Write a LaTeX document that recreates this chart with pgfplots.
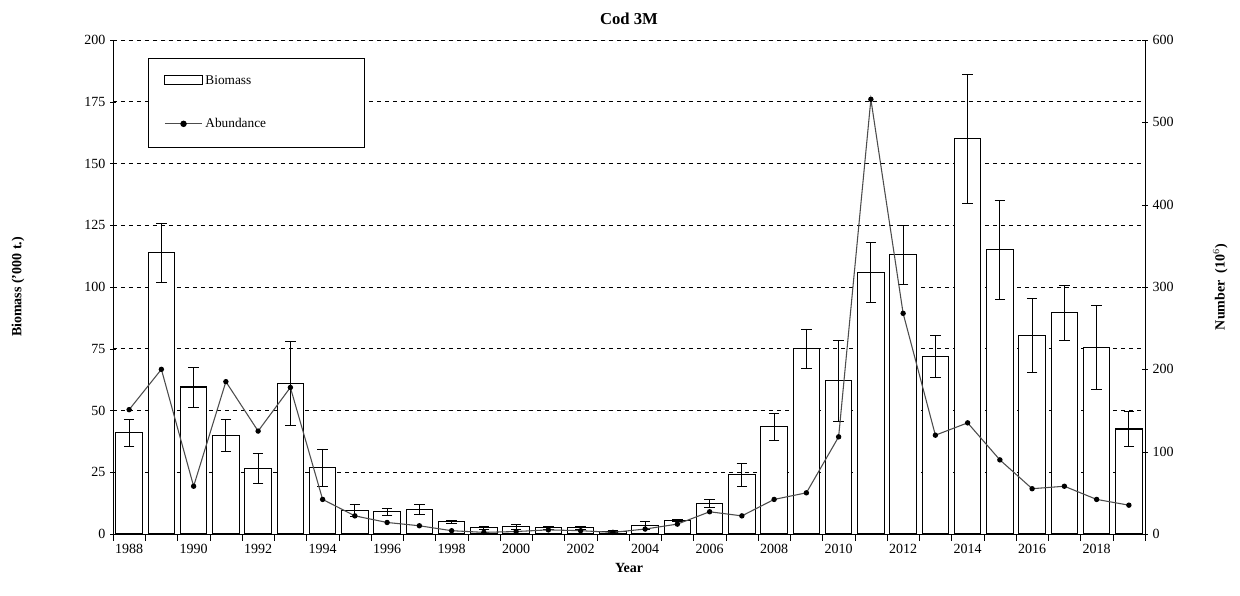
\documentclass[border=0pt]{standalone}
\usepackage{pgfplots}
\pgfplotsset{compat=1.18}
\usepackage{fontspec}
\setmainfont{Liberation Serif}
\begin{document}
\begin{tikzpicture}[x=1pt,y=1pt]
\def\px{0.75pt}
\pgfplotsset{every axis/.append style={scale only axis,width=774pt,height=370.5pt,
 xmin=1987.5,xmax=2019.5,
 tick label style={font=\fontsize{10.5}{12}\selectfont},
 /pgf/number format/assume math mode=true}}
\begin{axis}[name=ax,
 ymin=0,ymax=200,ytick={0,25,...,200},
 axis y line*=left, axis x line*=bottom,
 ymajorgrids, grid style={dashed,black,line width=0.5pt},
 xtick={1988,1990,...,2018}, major x tick style={draw=none},
 minor xtick={1987.5,1988.5,...,2019.5}, x tick label style={/pgf/number format/1000 sep={}},
 tick align=outside, tick style={black}, minor tick length=5pt,
 ytick align=center,
 title={\bfseries\fontsize{12.5}{14}\selectfont Cod 3M}, title style={yshift=2pt},
 xlabel={\bfseries Year}, ylabel={\bfseries Biomass ('000 t.)},
 ylabel style={at={(axis description cs:-0.092,0.5)},anchor=center},
 label style={font=\fontsize{10.5}{12}\selectfont},
 legend style={at={(0.034,0.964)},anchor=north west,draw=black,font=\fontsize{10}{12}\selectfont,
   inner xsep=12pt,inner ysep=11pt,row sep=20pt,cells={anchor=west,text width=105pt}},
 legend cell align=left,
]
\addplot[ybar,bar width=20pt,fill=white,draw=black,line width=0.8pt,
 legend image code/.code={\draw[fill=white,draw=black,line width=0.8pt](0pt,-3pt) rectangle (28pt,4pt);},
 error bars/.cd,y dir=both,y explicit,error bar style={line width=0.8pt,black},error mark options={rotate=90,mark size=4pt,black}]
 table[x=x,y=y,y error=e]{
x y e
1988 41 5.5
1989 114 12
1990 59.5 8
1991 40 6.5
1992 26.5 6
1993 61 17
1994 27 7.5
1995 9.5 2.5
1996 9 1.5
1997 10 2
1998 5 0.5
1999 2.5 0.5
2000 3 1
2001 2.5 0.5
2002 2.5 0.5
2003 1 0.5
2004 3.5 1.5
2005 5.5 0.5
2006 12.5 1.5
2007 24 4.5
2008 43.5 5.5
2009 75 8
2010 62 16.5
2011 106 12
2012 113 12
2013 72 8.5
2014 160 26
2015 115 20
2016 80.5 15
2017 89.5 11
2018 75.5 17
2019 42.5 7
};
\addlegendentry{Biomass}
\addlegendimage{black!70,line width=0.8pt,mark=*,mark options={black,scale=0.8},
 legend image code/.code={\draw[black!70,line width=0.8pt](0pt,0pt)--(28pt,0pt);\fill[black](14pt,0pt) circle (2pt);}}
\addlegendentry{Abundance}
\end{axis}
\begin{axis}[
 ymin=0,ymax=600,ytick={0,100,...,600},
 axis y line*=right, axis x line=none, ytick align=center, tick style={black},
 ylabel={\bfseries Number \ (10$^{6}$)}, ylabel style={font=\fontsize{10.5}{12}\selectfont,at={(axis description cs:1.073,0.5)},anchor=center,rotate=0},
]
\addplot[black!70,line width=0.8pt,mark=*,mark options={black,scale=0.8}] coordinates {
(1988,151)(1989,200)(1990,58)(1991,185)(1992,125)(1993,178)(1994,42)(1995,22)(1996,14)(1997,10)
(1998,4)(1999,2)(2000,3)(2001,5)(2002,4)(2003,2)(2004,6)(2005,12)(2006,27)(2007,22)
(2008,42)(2009,50)(2010,118)(2011,528)(2012,268)(2013,120)(2014,135)(2015,90)(2016,55)(2017,58)(2018,42)(2019,35)};
\end{axis}
\path[use as bounding box] ([shift={(-113*\px,-62*\px)}]ax.south west) rectangle ([shift={(95*\px,40*\px)}]ax.north east);
\end{tikzpicture}
\end{document}
